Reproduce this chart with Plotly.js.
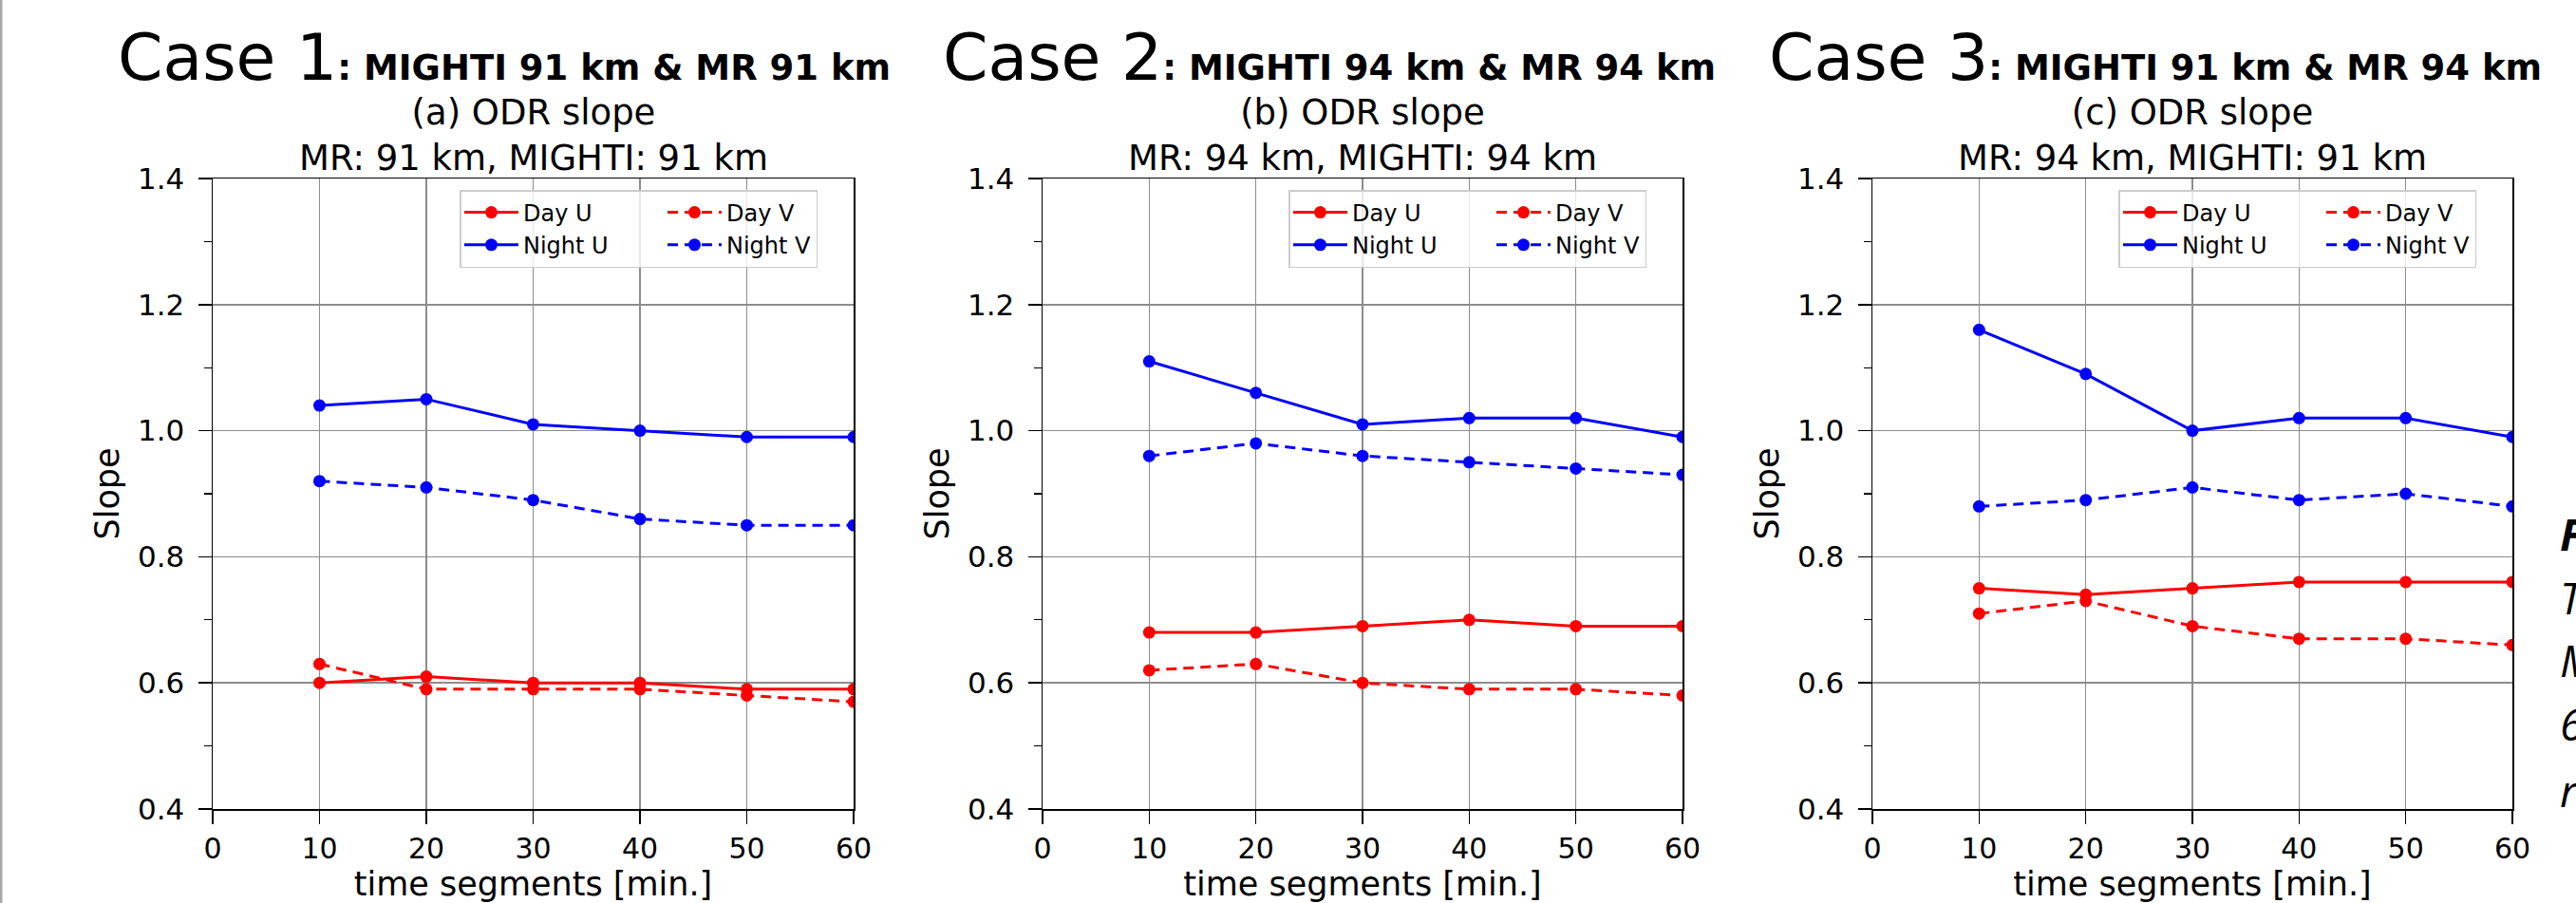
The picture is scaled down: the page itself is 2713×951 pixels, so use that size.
<!DOCTYPE html>
<html>
<head>
<meta charset="utf-8">
<script src="https://cdn.plot.ly/plotly-3.0.1.min.js"></script>
<style>
  html, body { margin: 0; padding: 0; background: #ffffff; }
  #chart { width: 2713px; height: 951px; }
</style>
</head>
<body>
<div id="chart"></div>
<script>
// ---------------- data ----------------
const timeSegments = [10, 20, 30, 40, 50, 60];
const xTickVals = [0, 10, 20, 30, 40, 50, 60];
const yTickVals = [0.4, 0.6, 0.8, 1.0, 1.2, 1.4];
const yMinorTickVals = [0.5, 0.7, 0.9, 1.1, 1.3];

const seriesNames = ["Day U", "Day V", "Night U", "Night V"];

// Case 1: MIGHTI 91 km & MR 91 km
const case1DayU   = [0.60, 0.61, 0.60, 0.60, 0.59, 0.59];
const case1DayV   = [0.63, 0.59, 0.59, 0.59, 0.58, 0.57];
const case1NightU = [1.04, 1.05, 1.01, 1.00, 0.99, 0.99];
const case1NightV = [0.92, 0.91, 0.89, 0.86, 0.85, 0.85];

// Case 2: MIGHTI 94 km & MR 94 km
const case2DayU   = [0.68, 0.68, 0.69, 0.70, 0.69, 0.69];
const case2DayV   = [0.62, 0.63, 0.60, 0.59, 0.59, 0.58];
const case2NightU = [1.11, 1.06, 1.01, 1.02, 1.02, 0.99];
const case2NightV = [0.96, 0.98, 0.96, 0.95, 0.94, 0.93];

// Case 3: MIGHTI 91 km & MR 94 km
const case3DayU   = [0.75, 0.74, 0.75, 0.76, 0.76, 0.76];
const case3DayV   = [0.71, 0.73, 0.69, 0.67, 0.67, 0.66];
const case3NightU = [1.16, 1.09, 1.00, 1.02, 1.02, 0.99];
const case3NightV = [0.88, 0.89, 0.91, 0.89, 0.90, 0.88];

const caseLabels = ["Case 1", "Case 2", "Case 3"];
const caseSubtitles = [": MIGHTI 91 km & MR 91 km", ": MIGHTI 94 km & MR 94 km", ": MIGHTI 91 km & MR 94 km"];
const panelTitles = ["(a) ODR slope", "(b) ODR slope", "(c) ODR slope"];
const panelSubtitles = ["MR: 91 km, MIGHTI: 91 km", "MR: 94 km, MIGHTI: 94 km", "MR: 94 km, MIGHTI: 91 km"];
const captionLetters = ["F", "T", "M", "6", "r"];

// ---------------- layout helpers ----------------
const W = 2713, H = 951;
const FONT = "DejaVu Sans";
const panelLeft  = [224, 1098, 1972];
const panelRight = [899, 1772, 2646];
const plotTop = 188, plotBottom = 852;
const titleCenters = [531, 1400, 2270];

const panels = [
  [case1DayU, case1DayV, case1NightU, case1NightV],
  [case2DayU, case2DayV, case2NightU, case2NightV],
  [case3DayU, case3DayV, case3NightU, case3NightV]
];
const colors = ["#ff0000", "#ff0000", "#0000ff", "#0000ff"];
const dashes = ["solid", "11px,7px", "solid", "11px,7px"];
const groups = ["U", "V", "U", "V"];

const traces = [];
panels.forEach((series, p) => {
  const sfx = p === 0 ? "" : String(p + 1);
  series.forEach((vals, s) => {
    const tr = {
      type: "scatter",
      mode: "lines+markers",
      x: timeSegments,
      y: vals,
      name: seriesNames[s],
      xaxis: "x" + sfx,
      yaxis: "y" + sfx,
      legend: "legend" + sfx,
      legendgroup: groups[s] + p,
      line: { color: colors[s], width: 3, dash: dashes[s] },
      marker: { color: colors[s], size: 13 },
      hoverinfo: "x+y+name"
    };
    if (groups[s] === "U") tr.legendwidth = 142;
    traces.push(tr);
  });
});

const layout = {
  width: W, height: H,
  margin: { l: 0, r: 0, t: 0, b: 0 },
  paper_bgcolor: "#ffffff",
  plot_bgcolor: "#ffffff",
  showlegend: true,
  font: { family: FONT, color: "#000000" },
  annotations: [],
  shapes: [
    { type: "line", xref: "paper", yref: "paper", x0: 1 / W, x1: 1 / W, y0: 0, y1: 1,
      line: { color: "#a8a8a8", width: 3 } }
  ]
};

for (let p = 0; p < 3; p++) {
  const sfx = p === 0 ? "" : String(p + 1);
  const xd = [panelLeft[p] / W, panelRight[p] / W];
  const yd = [1 - plotBottom / H, 1 - plotTop / H];
  layout["xaxis" + sfx] = {
    domain: xd, anchor: "y" + sfx,
    range: [0, 60], tickvals: xTickVals,
    ticks: "outside", ticklen: 14, tickwidth: 1.5, tickcolor: "#000",
    showline: true, mirror: true, linecolor: "#000", linewidth: 1.5,
    showgrid: true, gridcolor: "#8c8c8c", gridwidth: 1.5, zeroline: false,
    tickfont: { family: FONT, size: 30, color: "#000" },
    title: { text: "time segments [min.]", font: { family: FONT, size: 35, color: "#000" }, standoff: 9 }
  };
  layout["yaxis" + sfx] = {
    domain: yd, anchor: "x" + sfx,
    range: [0.4, 1.4], tickvals: yTickVals, tickformat: ".1f",
    ticks: "outside", ticklen: 14, tickwidth: 1.5, tickcolor: "#000",
    ticklabelstandoff: 8,
    minor: { tickvals: yMinorTickVals, ticks: "outside", ticklen: 8, tickwidth: 1.2, tickcolor: "#000", showgrid: false },
    showline: true, mirror: true, linecolor: "#000", linewidth: 1.5,
    showgrid: true, gridcolor: "#8c8c8c", gridwidth: 1.5, zeroline: false,
    tickfont: { family: FONT, size: 31, color: "#000" },
    title: { text: "Slope", font: { family: FONT, size: 35, color: "#000" }, standoff: 8 }
  };
  layout["legend" + sfx] = {
    x: (panelRight[p] - 415) / W, xanchor: "left",
    y: 1 - 200 / H, yanchor: "top",
    orientation: "h", traceorder: "grouped",
    bgcolor: "rgba(255,255,255,0.8)", bordercolor: "#cccccc", borderwidth: 1.5,
    font: { family: FONT, size: 24, color: "#000" },
    itemwidth: 57
  };
  // big case title
  layout.annotations.push({
    xref: "paper", yref: "paper",
    x: titleCenters[p] / W, y: 1 - 60 / H, xanchor: "center", yanchor: "middle",
    showarrow: false,
    text: caseLabels[p] + '<span style="font-size:37px"><b>' + caseSubtitles[p].replace("&", "&amp;") + "</b></span>",
    font: { family: FONT, size: 68, color: "#000" }
  });
  // panel title (two lines)
  layout.annotations.push({
    xref: "paper", yref: "paper",
    x: (panelLeft[p] + panelRight[p]) / 2 / W, y: 1 - 143 / H, xanchor: "center", yanchor: "middle",
    showarrow: false,
    text: panelTitles[p] + "<br>" + panelSubtitles[p],
    font: { family: FONT, size: 37, color: "#000" }
  });
}

// partially visible caption at right edge
const captionBaselines = [580, 647, 713, 780, 850];
captionLetters.forEach((ch, i) => {
  layout.annotations.push({
    xref: "paper", yref: "paper",
    x: 2694 / W, y: 1 - (captionBaselines[i] - 0.388 * 46) / H,
    xanchor: "left", yanchor: "middle", showarrow: false,
    text: i === 0 ? "<b>" + ch + "</b>" : ch,
    font: { family: "Open Sans", size: 46, style: "italic", color: "#000" }
  });
});

Plotly.newPlot("chart", traces, layout, { staticPlot: true, displayModeBar: false });
</script>
</body>
</html>
